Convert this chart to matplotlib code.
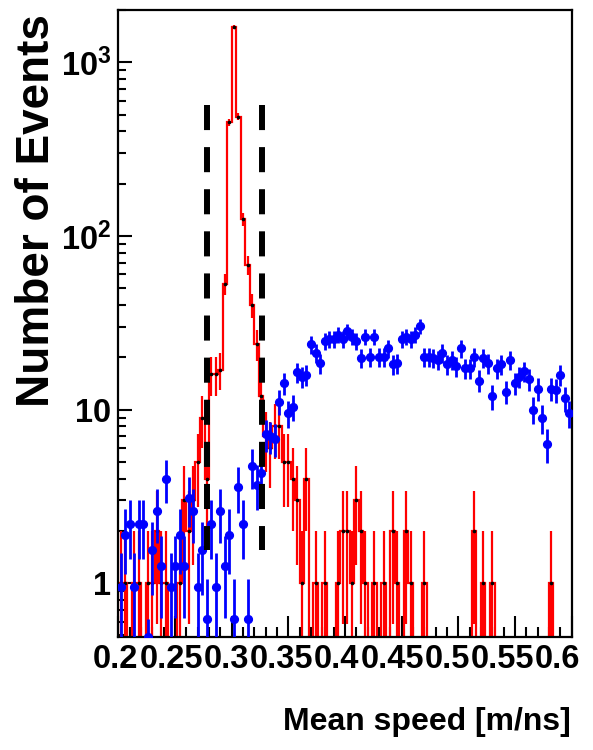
import numpy as np
import matplotlib
matplotlib.use("Agg")
import matplotlib.pyplot as plt
from matplotlib import font_manager as fm
from matplotlib.ticker import LogLocator, NullFormatter, MultipleLocator
from matplotlib.transforms import ScaledTranslation

# ---------------- data ----------------
x_min, x_max, n_bins = 0.2, 0.6, 100

red_counts = [1, 1, 0, 1, 1, 0, 1, 1, 2, 1,
              1, 0, 0, 1, 3, 2, 3, 5, 9, 4,
              16, 16, 17, 53, 452, 1600, 487, 125, 68, 40,
              24, 12, 7, 6, 8, 8, 5, 5, 4, 3,
              1, 4, 0, 1, 0, 1, 0, 0, 1, 2,
              2, 1, 3, 2, 1, 0, 1, 0, 1, 0,
              2, 1, 0, 2, 1, 0, 0, 1, 0, 0,
              0, 0, 0, 0, 0, 0, 0, 0, 2, 0,
              1, 0, 1, 0, 0, 0, 0, 0, 0, 0,
              0, 0, 0, 0, 0, 1, 0, 0, 0, 0]

blue_values = [0.95, 1.9, 2.2, 0.95, 2.2, 2.2, 0.31, 1.55, 2.6, 1.25,
               4.0, 0.95, 1.25, 1.9, 1.25, 3.1, 2.6, 0.95, 1.55, 0.62,
               2.2, 0.95, 2.6, 1.25, 1.9, 0.62, 3.6, 2.2, 0.62, 4.7,
               3.7, 4.3, 7.2, 7.0, 6.8, 11.1, 14.2, 9.5, 10.4, 16.4,
               15.5, 15.9, 23.7, 21.2, 18.5, 24.9, 25.4, 25.4, 27.0, 25.4,
               28.2, 26.3, 24.9, 19.8, 26.3, 20.2, 26.3, 20.2, 20.2, 22.5,
               18.2, 18.5, 25.4, 26.3, 25.4, 27.0, 30.2, 20.2, 20.0, 19.8,
               19.4, 21.2, 18.2, 19.4, 17.8, 22.5, 17.3, 17.3, 20.2, 14.7,
               19.8, 18.5, 11.9, 17.3, 18.2, 12.7, 19.4, 14.2, 15.5, 16.6,
               14.9, 10.0, 13.2, 8.9, 6.3, 13.2, 12.9, 15.9, 11.6, 9.5]
blue_weight = 0.31          # per-event weight of the blue sample

cut_positions = [0.278, 0.327]
cut_y_range = [564, 1.55]

xtick_values = [0.2, 0.25, 0.3, 0.35, 0.4, 0.45, 0.5, 0.55, 0.6]
xtick_labels = ["0.2", "0.25", "0.3", "0.35", "0.4", "0.45", "0.5", "0.55", "0.6"]
ytick_values = [1, 10, 100, 1000]
ytick_labels = ["1", "10", r"$\mathbf{10^{2}}$", r"$\mathbf{10^{3}}$"]

x_title = "Mean speed [m/ns]"
y_title = "Number of Events"

# ---------------- fonts ----------------
names = {f.name for f in fm.fontManager.ttflist}
NARROW = "Liberation Sans Narrow" in names
hfam = "Liberation Sans Narrow" if NARROW else "Liberation Sans"
tick_size = 28 if NARROW else 23.5
xtitle_size = 28 if NARROW else 23

plt.rcParams["font.family"] = [hfam, "DejaVu Sans"]
plt.rcParams["font.weight"] = "bold"
plt.rcParams["mathtext.fontset"] = "custom"
plt.rcParams["mathtext.rm"] = hfam + ":bold"
plt.rcParams["mathtext.bf"] = hfam + ":bold"
plt.rcParams["mathtext.it"] = hfam + ":bold"

# ---------------- figure ----------------
W, H = 593, 750
fig = plt.figure(figsize=(W / 100, H / 100), dpi=100)
ax = fig.add_axes([118.4 / W, 1 - 637 / H, (571.6 - 118.4) / W, (637 - 10) / H])

edges = np.linspace(x_min, x_max, n_bins + 1)
centers = 0.5 * (edges[:-1] + edges[1:])
half_w = 0.5 * (edges[1] - edges[0])
red = np.array(red_counts, dtype=float)
blue = np.array(blue_values, dtype=float)
y_lo, y_hi = 0.49, 2000

ax.set_yscale("log", nonpositive="clip")

# red histogram (step + poisson errors)
ax.stairs(red, edges, color="red", linewidth=1.6, baseline=None, zorder=2)
nz = red > 0
ax.errorbar(centers[nz], red[nz], yerr=np.sqrt(red[nz]), fmt="none",
            ecolor="red", elinewidth=1.6, capsize=0, zorder=2)
ax.plot(centers[nz], red[nz], "o", color="black", markersize=1.6, zorder=3)

# blue points (markers below the frame are drawn on its lower edge, as ROOT does)
ax.errorbar(centers, blue, xerr=half_w, yerr=np.sqrt(blue * blue_weight),
            fmt="none", ecolor="blue", elinewidth=2.0, capsize=0, zorder=4)
ax.plot(centers, np.maximum(blue, y_lo), "o", color="blue", markersize=5.6,
        zorder=4)

# dashed cut lines
for xc in cut_positions:
    ax.plot([xc, xc], cut_y_range, color="black", linewidth=4.3,
            dashes=(4.2, 2.85), solid_capstyle="butt", dash_capstyle="butt",
            zorder=5)

ax.set_xlim(x_min, x_max)
ax.set_ylim(y_lo, y_hi)

ax.set_xticks(xtick_values, labels=xtick_labels)
ax.xaxis.set_minor_locator(MultipleLocator(0.01))
ax.set_yticks(ytick_values, labels=ytick_labels)
ax.yaxis.set_minor_locator(LogLocator(base=10, subs=np.arange(2, 10)))
ax.yaxis.set_minor_formatter(NullFormatter())

ax.tick_params(axis="x", which="major", direction="in", length=15, width=1.5,
               top=False, pad=5, labelsize=tick_size)
ax.tick_params(axis="x", which="minor", direction="in", length=7, width=1.5, top=False)
ax.tick_params(axis="y", which="major", direction="in", length=10, width=1.5,
               right=False, pad=5, labelsize=tick_size)
ax.tick_params(axis="y", which="minor", direction="in", length=6, width=1.5, right=False)
for lab in ax.get_xticklabels() + ax.get_yticklabels():
    lab.set_fontweight("bold")

# ROOT packs the x labels slightly tighter than the ticks
for i, lab in enumerate(ax.get_xticklabels()):
    dx = -(2.5 + 1.4 * i) / 100.0
    lab.set_transform(lab.get_transform() + ScaledTranslation(dx, 0, fig.dpi_scale_trans))

for sp in ax.spines.values():
    sp.set_linewidth(1.6)

fig.text(571 / W, 1 - 722 / H, x_title, ha="right", va="center",
         fontsize=xtitle_size, fontweight="bold")
fig.text(37 / W, 1 - 14 / H, y_title, rotation=90, ha="center", va="top",
         fontsize=33, fontweight="bold", family=["Liberation Sans", "DejaVu Sans"])

fig.savefig("out.png", dpi=100)
